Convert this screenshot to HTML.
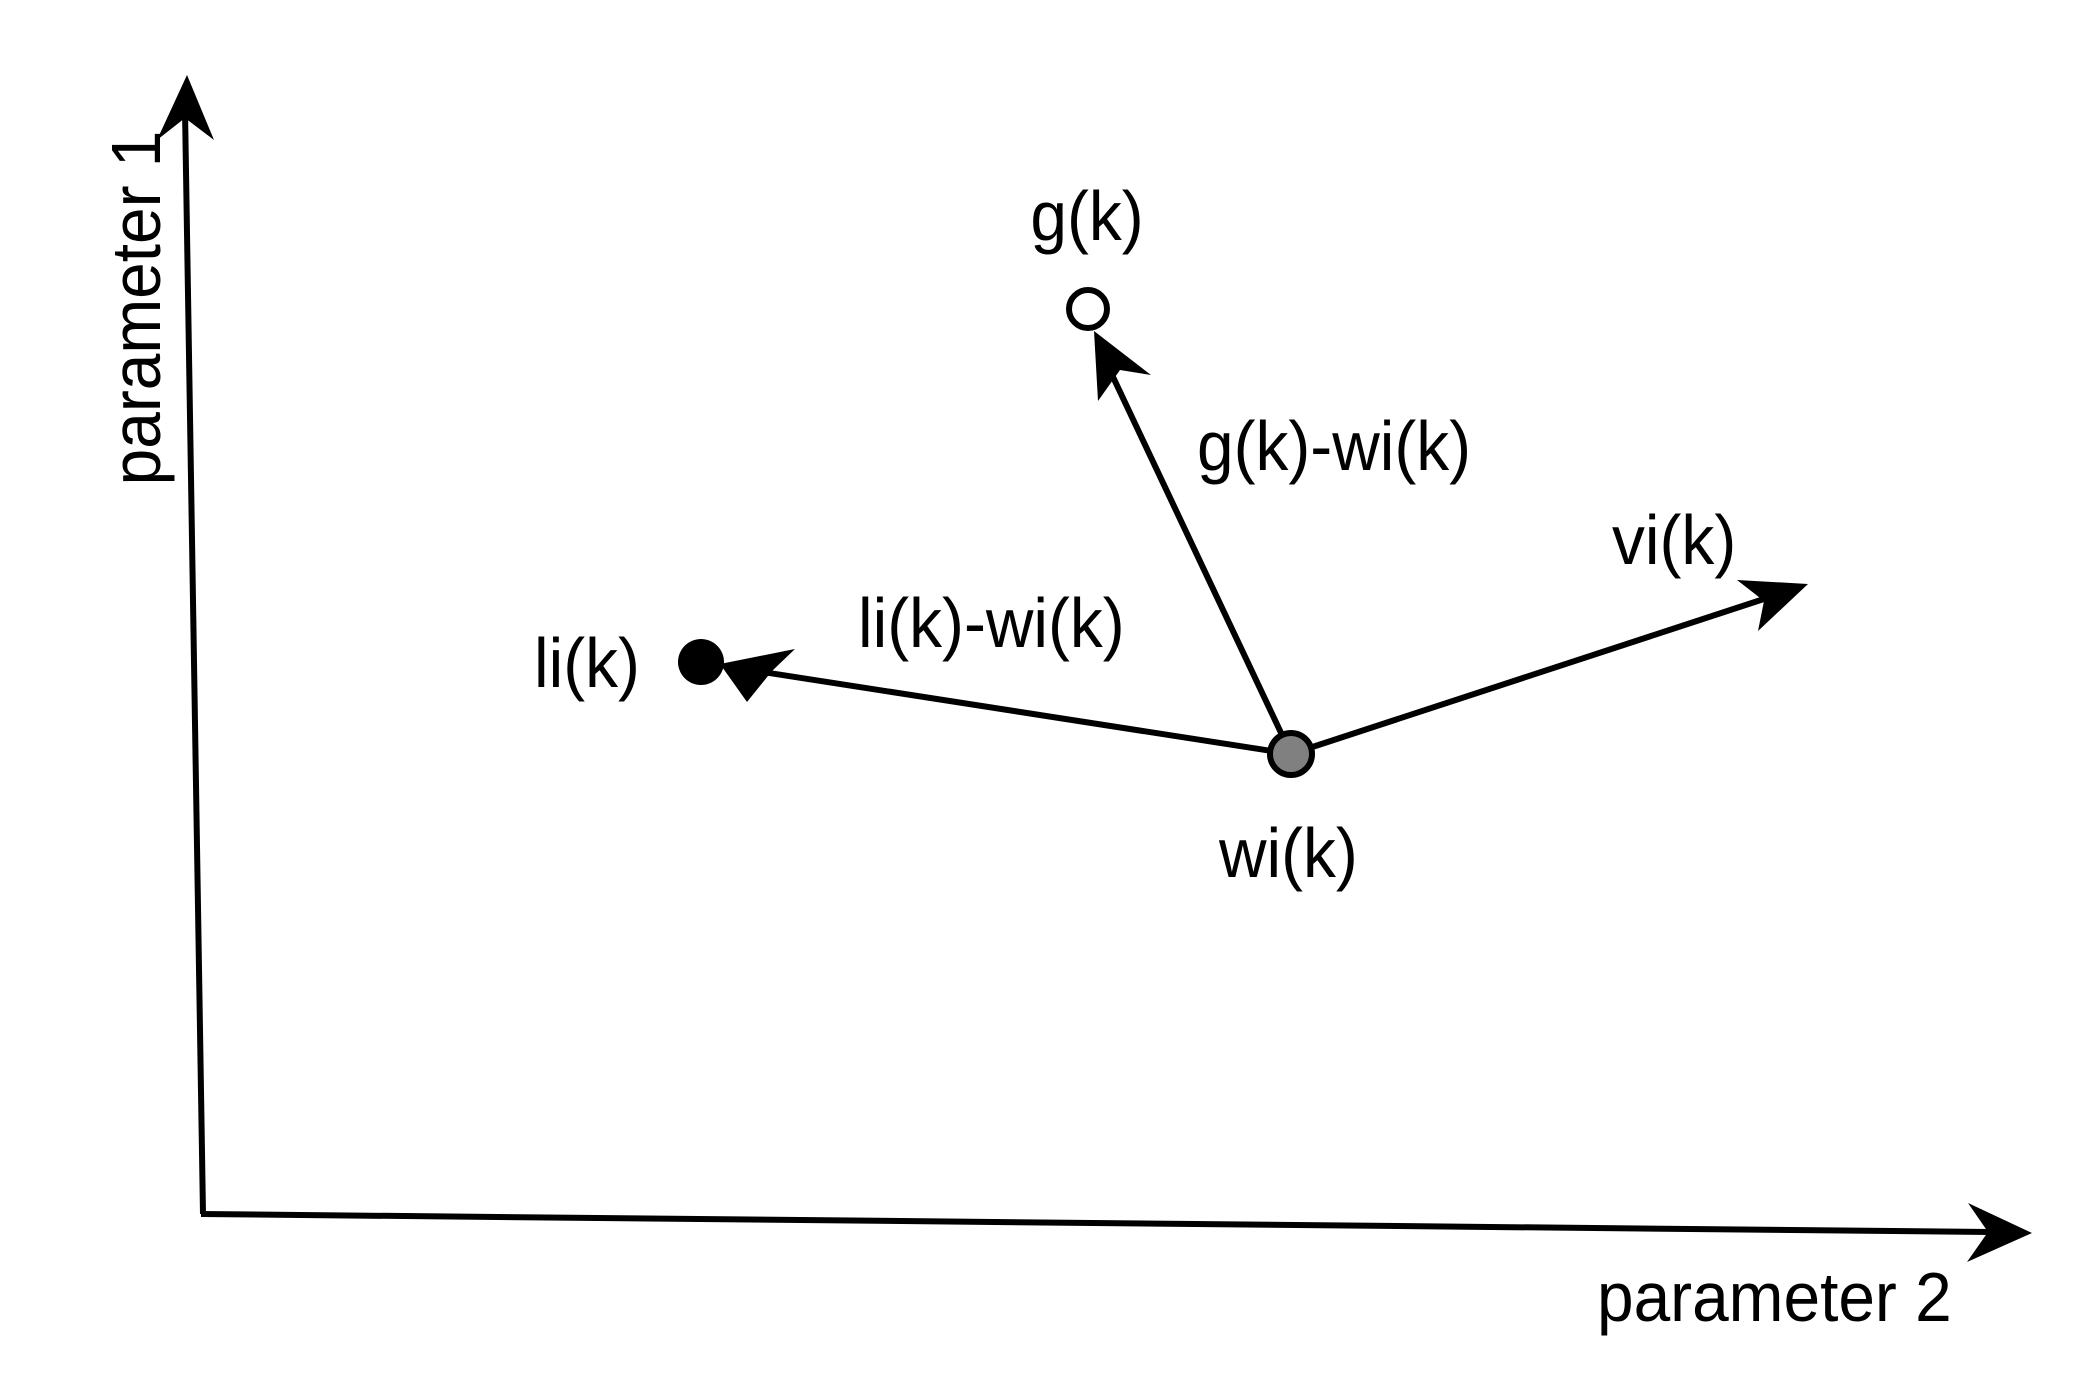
<!DOCTYPE html>
<html><head><meta charset="utf-8"><style>html,body{margin:0;padding:0;background:#fff}svg{display:block}</style></head>
<body>
<svg width="2092" height="1394" viewBox="0 0 2092 1394" xmlns="http://www.w3.org/2000/svg" font-family="Liberation Sans, Arial, sans-serif" font-size="70" fill="#000">
<g stroke="#000" stroke-width="6" fill="none">
<line x1="203" y1="1214" x2="185" y2="110"/>
<line x1="201" y1="1214" x2="1990" y2="1232"/>
<line x1="1291" y1="754" x2="1105" y2="360"/>
<line x1="1291" y1="754" x2="750" y2="670"/>
<line x1="1291" y1="754" x2="1770" y2="597"/>
</g>
<polygon points="187,75 214,140 185,118 157,140"/>
<polygon points="2032,1233 1967,1262 1988,1232 1968,1203"/>
<polygon points="1094,331 1151,375 1120,370 1098,401"/>
<polygon points="720,664 795,649 772,671 747,702"/>
<polygon points="1808,584 1758,631 1764,601 1737,580"/>
<circle cx="1291" cy="754" r="21" fill="#808080" stroke="#000" stroke-width="6"/>
<circle cx="1088" cy="309" r="19" fill="#fff" stroke="#000" stroke-width="6"/>
<circle cx="701" cy="662" r="23" fill="#000"/>
<g transform="translate(1087,240) scale(0.94,1)"><text text-anchor="middle">g(k)</text></g>
<g transform="translate(1197,470) scale(0.94,1)"><text>g(k)-wi(k)</text></g>
<g transform="translate(1612,564) scale(0.94,1)"><text>vi(k)</text></g>
<g transform="translate(858,647) scale(0.94,1)"><text>li(k)-wi(k)</text></g>
<g transform="translate(534,687) scale(0.94,1)"><text>li(k)</text></g>
<g transform="translate(1219,877) scale(0.94,1)"><text>wi(k)</text></g>
<g transform="translate(1597,1321) scale(0.94,1)"><text>parameter 2</text></g>
<g transform="translate(160,308) rotate(-90) scale(0.94,1)"><text text-anchor="middle">parameter 1</text></g>
</svg>
</body></html>
